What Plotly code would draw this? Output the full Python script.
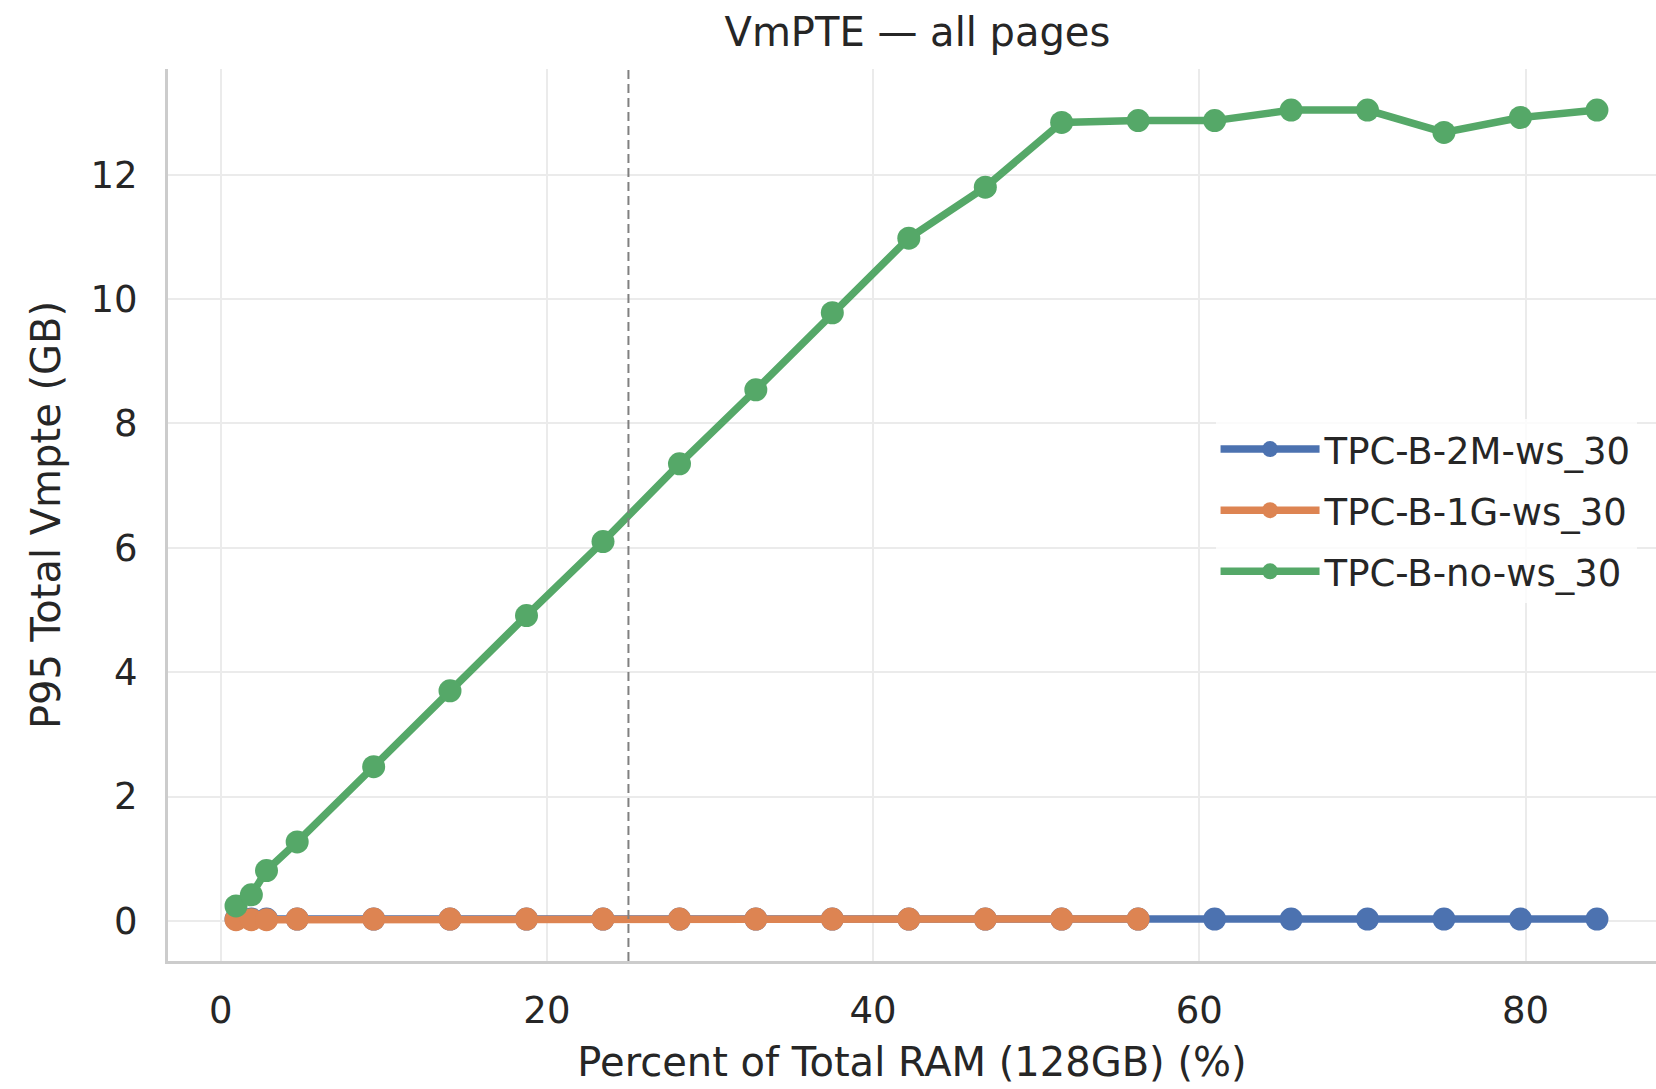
import plotly.graph_objects as go

pct_all = [0.94, 1.88, 2.81, 4.69, 9.38, 14.06, 18.75, 23.44, 28.13, 32.81, 37.5,
           42.19, 46.88, 51.56, 56.25, 60.94, 65.63, 70.31, 75.0, 79.69, 84.38]
pct_1g = pct_all[:15]

vmpte_2m = [0.03] * 21
vmpte_1g = [0.02, 0.02, 0.02, 0.03, 0.03, 0.03, 0.03, 0.03, 0.03, 0.03, 0.03,
            0.03, 0.03, 0.03, 0.03]
vmpte_no = [0.24, 0.42, 0.81, 1.27, 2.48, 3.70, 4.91, 6.10, 7.35, 8.54, 9.78,
            10.98, 11.80, 12.84, 12.87, 12.87, 13.04, 13.04, 12.68, 12.92, 13.04]

names = ["TPC-B-2M-ws_30", "TPC-B-1G-ws_30", "TPC-B-no-ws_30"]
colors = ["#4C72B0", "#DD8452", "#55A868"]
ref_x = 25

x_ticks = [0, 20, 40, 60, 80]
y_ticks = [0, 2, 4, 6, 8, 10, 12]

fig = go.Figure()
for xs, ys, nm, c in [(pct_all, vmpte_2m, names[0], colors[0]),
                      (pct_1g, vmpte_1g, names[1], colors[1]),
                      (pct_all, vmpte_no, names[2], colors[2])]:
    fig.add_trace(go.Scatter(
        x=xs, y=ys, name=nm, legendgroup=nm, mode="lines+markers",
        line=dict(color=c, width=7.5),
        marker=dict(color=c, size=23),
    ))

fig.add_vline(x=ref_x, line=dict(color="#808080", width=2, dash="9px,5px"))

font_family = "DejaVu Sans"
txt = "#262626"
fig.update_layout(
    width=1656, height=1089,
    margin=dict(l=168, r=0, t=69, b=128),
    paper_bgcolor="white", plot_bgcolor="white",
    font=dict(family=font_family, color=txt, size=37),
    title=dict(text="VmPTE — all pages", x=0.554, xanchor="center",
               y=0.971, yanchor="middle", font=dict(size=40, color=txt)),
    legend=dict(x=0.704, xanchor="left", y=0.505, yanchor="middle",
                bgcolor="rgba(255,255,255,0.8)", font=dict(size=37, color=txt),
                itemwidth=99, tracegroupgap=10, traceorder="grouped"),
    showlegend=True,
)
fig.update_xaxes(
    range=[-3.23, 88.0], tickvals=x_ticks, showgrid=True, gridcolor="#EBEBEB",
    gridwidth=1.5, zeroline=False, showline=True, linecolor="#CCCCCC", linewidth=3,
    ticks="", ticklabelstandoff=15, tickfont=dict(size=37, color=txt),
    title=dict(text="Percent of Total RAM (128GB) (%)", font=dict(size=40, color=txt),
               standoff=17),
)
fig.update_yaxes(
    range=[-0.645, 13.7], tickvals=y_ticks, showgrid=True, gridcolor="#EBEBEB",
    gridwidth=1.5, zeroline=False, showline=True, linecolor="#CCCCCC", linewidth=3,
    ticks="", ticklabelstandoff=20, tickfont=dict(size=37, color=txt),
    title=dict(text="P95 Total Vmpte (GB)", font=dict(size=40, color=txt),
               standoff=18),
)

fig.write_html("out.html")
